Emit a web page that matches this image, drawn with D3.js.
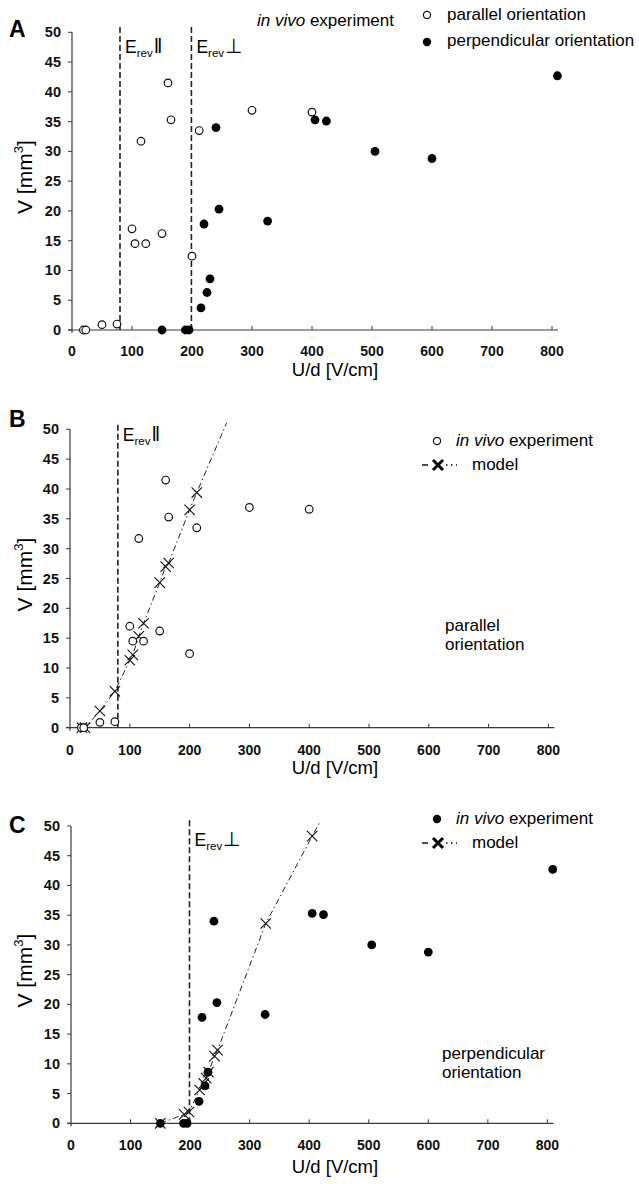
<!DOCTYPE html>
<html><head><meta charset="utf-8">
<script src="https://cdn.jsdelivr.net/npm/d3@7"></script>
<style>
html,body{margin:0;padding:0;background:#fff;}
svg{display:block;font-family:"Liberation Sans",Arial,sans-serif;}
</style></head>
<body>
<svg id="chart" width="639" height="1184"></svg>
<script>
// ---------- DATA ----------
const xTicks = [0,100,200,300,400,500,600,700,800];
const yTicks = [0,5,10,15,20,25,30,35,40,45,50];

// in vivo experiment, parallel orientation
const parX = [19,23,50,75,100,105,123,150,115,160,165,200,212,300,400];
const parY = [0,0,0.9,1.0,17.0,14.5,14.5,16.2,31.7,41.5,35.3,12.4,33.5,36.9,36.6];

// in vivo experiment, perpendicular orientation
const perpX = [150,189,195,215,225,230,220,245,240,326,405,424,505,600,809];
const perpY = [0,0,0,3.7,6.3,8.6,17.8,20.3,34.0,18.3,35.3,35.1,30.0,28.8,42.7];

// model, parallel orientation
const parModelX = [20,25,50,75,100,105,115,123,150,160,165,200,212];
const parModelY = [0,0,2.8,6.1,11.3,12.2,15.3,17.5,24.3,27.0,27.6,36.5,39.4];
const parModelLineEnd = [262,51.1];

// model, perpendicular orientation
const perpModelX = [150,190,198,216,223,227,231,241,246,327,405];
const perpModelY = [0,1.5,1.9,5.6,6.7,7.6,8.6,11.3,12.3,33.6,48.3];
const perpModelLineEnd = [418,50.7];

// reversible thresholds
const erevPar = 80;
const erevPerp = 199;

// ---------- DRAW ----------
const svg = d3.select("#chart");

function panel(o){
  const g = svg.append("g");
  const x = d3.scaleLinear().domain([0,810]).range([o.x0,o.x1]);
  const y = d3.scaleLinear().domain([0,50]).range([o.y0,o.y1]);
  const ax = "#3a3a3a";
  g.append("line").attr("x1",x(0)-4).attr("x2",x(810)).attr("y1",y(0)).attr("y2",y(0)).attr("stroke",ax).attr("stroke-width",1.2);
  g.append("line").attr("x1",x(0)).attr("x2",x(0)).attr("y1",y(50)).attr("y2",y(0)+3).attr("stroke",ax).attr("stroke-width",1.2);
  g.selectAll(".yt").data(yTicks).enter().append("line")
    .attr("x1",x(0)-4).attr("x2",x(0)).attr("y1",d=>y(d)).attr("y2",d=>y(d)).attr("stroke",ax);
  g.selectAll(".yl").data(yTicks).enter().append("text")
    .attr("x",x(0)-11).attr("y",d=>y(d)+5).attr("text-anchor","end")
    .attr("font-size",14.5).attr("font-weight","bold").attr("fill","#111").text(d=>d);
  g.selectAll(".xt").data(xTicks.slice(1)).enter().append("line")
    .attr("x1",d=>x(d)).attr("x2",d=>x(d)).attr("y1",y(0)).attr("y2",y(0)-4).attr("stroke",ax);
  g.selectAll(".xl").data(xTicks).enter().append("text")
    .attr("x",d=>x(d)).attr("y",y(0)+o.xlOff).attr("text-anchor","middle")
    .attr("font-size",14).attr("font-weight","bold").attr("fill","#111").text(d=>d);
  g.append("text").attr("x",335).attr("y",y(0)+o.xtOff).attr("text-anchor","middle")
    .attr("font-size",18.5).text("U/d [V/cm]");
  const yt = g.append("text").attr("transform",`translate(32,${(o.y0+o.y1)/2-4}) rotate(-90)`)
    .attr("text-anchor","middle").attr("font-size",21);
  yt.append("tspan").text("V [mm");
  yt.append("tspan").attr("dy",-9).attr("font-size",13).text("3");
  yt.append("tspan").attr("dy",9).text("]");
  g.append("text").attr("x",9).attr("y",o.letterY).attr("font-size",23).attr("font-weight","bold").text(o.letter);
  return {g,x,y};
}

function erev(p, val, sym, baseY){
  p.g.append("line").attr("x1",p.x(val)).attr("x2",p.x(val)).attr("y1",p.y(0)).attr("y2",p.y(51))
    .attr("stroke","#222").attr("stroke-width",1.6).attr("stroke-dasharray","6,3");
  const t = p.g.append("text").attr("x",p.x(val)+5).attr("y",baseY).attr("font-size",17.5);
  t.append("tspan").text("E");
  t.append("tspan").attr("dy",4).attr("font-size",11.5).text("rev");
  t.append("tspan").attr("dy",-4).attr("dx",1).attr("font-size",sym==="\u2016"?21:20).text(sym);
}

function openCircles(p, xs, ys){
  p.g.selectAll(null).data(xs.map((d,i)=>[d,ys[i]])).enter().append("circle")
    .attr("cx",d=>p.x(d[0])).attr("cy",d=>p.y(d[1])).attr("r",3.8)
    .attr("fill","#fff").attr("stroke","#111").attr("stroke-width",1.2);
}
function filledCircles(p, xs, ys){
  p.g.selectAll(null).data(xs.map((d,i)=>[d,ys[i]])).enter().append("circle")
    .attr("cx",d=>p.x(d[0])).attr("cy",d=>p.y(d[1])).attr("r",4.4).attr("fill","#000");
}
function crossPath(cx,cy,s){
  return `M${cx-s},${cy-s}L${cx+s},${cy+s}M${cx-s},${cy+s}L${cx+s},${cy-s}`;
}
function model(p, xs, ys, end){
  const pts = xs.map((d,i)=>[d,ys[i]]).concat([end]);
  const line = d3.line().x(d=>p.x(d[0])).y(d=>p.y(d[1]));
  p.g.append("path").attr("d",line(pts)).attr("fill","none").attr("stroke","#222")
    .attr("stroke-width",1).attr("stroke-dasharray","6,3,1.5,3");
  p.g.selectAll(null).data(xs.map((d,i)=>[d,ys[i]])).enter().append("path")
    .attr("d",d=>crossPath(p.x(d[0]),p.y(d[1]),5.2)).attr("stroke","#111").attr("stroke-width",1.1).attr("fill","none");
}
function legText(g, x, y, italic, rest){
  const t = g.append("text").attr("x",x).attr("y",y).attr("font-size",17);
  if(italic){ t.append("tspan").attr("font-style","italic").text(italic); }
  t.append("tspan").text(rest);
  return t;
}
function modelLegend(g, cx, cy){
  g.append("line").attr("x1",cx-16).attr("x2",cx-10).attr("y1",cy).attr("y2",cy).attr("stroke","#111").attr("stroke-width",1.5);
  g.append("path").attr("d",crossPath(cx,cy,5)).attr("stroke","#000").attr("stroke-width",3);
  g.append("line").attr("x1",cx+8).attr("x2",cx+19).attr("y1",cy).attr("y2",cy).attr("stroke","#111").attr("stroke-width",1.5).attr("stroke-dasharray","1.5,3.5");
  g.append("text").attr("x",cx+34).attr("y",cy+5).attr("font-size",17).text("model");
}

// Panel A
const A = panel({x0:72,x1:72+810*0.6,y0:330,y1:32.3,letter:"A",letterY:37,xlOff:26,xtOff:46});
erev(A, erevPar, "\u2016", 53);
erev(A, erevPerp, "\u22A5", 53);
openCircles(A, parX, parY);
filledCircles(A, perpX, perpY);
legText(A.g, 257, 26, "in vivo", " experiment");
A.g.append("circle").attr("cx",427).attr("cy",15).attr("r",3.6).attr("fill","#fff").attr("stroke","#111").attr("stroke-width",1.2);
A.g.append("text").attr("x",447).attr("y",20).attr("font-size",17).text("parallel orientation");
A.g.append("circle").attr("cx",427).attr("cy",42).attr("r",4.2).attr("fill","#000");
A.g.append("text").attr("x",447).attr("y",46).attr("font-size",17).text("perpendicular orientation");

// Panel B
const B = panel({x0:70,x1:70+810*0.598,y0:727.7,y1:429.3,letter:"B",letterY:427,xlOff:27,xtOff:46});
erev(B, erevPar, "\u2016", 441);
model(B, parModelX, parModelY, parModelLineEnd);
openCircles(B, parX, parY);
B.g.append("circle").attr("cx",437).attr("cy",441).attr("r",3.6).attr("fill","#fff").attr("stroke","#111").attr("stroke-width",1.2);
legText(B.g, 456, 446, "in vivo", " experiment");
modelLegend(B.g, 438, 465);
B.g.append("text").attr("x",445).attr("y",631).attr("font-size",17).text("parallel");
B.g.append("text").attr("x",445).attr("y",650).attr("font-size",17).text("orientation");

// Panel C
const C = panel({x0:71,x1:71+810*0.5955,y0:1123.3,y1:826,letter:"C",letterY:833,xlOff:27,xtOff:50});
erev(C, erevPerp, "\u22A5", 846);
filledCircles(C, perpX, perpY);
model(C, perpModelX, perpModelY, perpModelLineEnd);
C.g.append("circle").attr("cx",437).attr("cy",819).attr("r",4.2).attr("fill","#000");
legText(C.g, 456, 824, "in vivo", " experiment");
modelLegend(C.g, 438, 843);
C.g.append("text").attr("x",442).attr("y",1059).attr("font-size",17).text("perpendicular");
C.g.append("text").attr("x",442).attr("y",1078).attr("font-size",17).text("orientation");
</script>
</body></html>
